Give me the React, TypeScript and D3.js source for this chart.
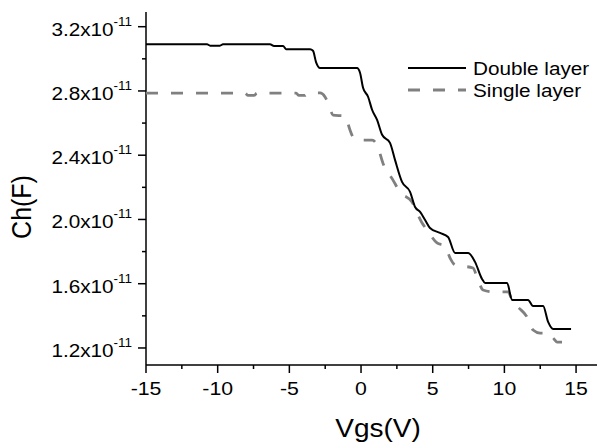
import * as d3 from 'd3';

// Vgs (V) and Ch (F)
const vgsDouble = [-15, -10.74, -10.53, -9.84, -9.63, -6.35, -6.07, -5.44, -5.23, -3.56, -3.35, -3.14, -2.86, -0.28, -0.07, 0.14, 0.49, 0.77, 1.12, 1.47, 2.02, 2.37, 2.86, 3.42, 3.77, 4.12, 4.47, 4.81, 5.51, 6.07, 6.56, 7.47, 7.95, 8.44, 8.65, 10.19, 10.53, 11.65, 12.0, 12.7, 13.05, 13.4, 14.65];
const chDouble = [3.09, 3.09, 3.082, 3.082, 3.09, 3.09, 3.08, 3.08, 3.06, 3.06, 3.05, 2.98, 2.943, 2.943, 2.913, 2.82, 2.764, 2.683, 2.62, 2.527, 2.477, 2.371, 2.234, 2.172, 2.078, 2.047, 1.997, 1.947, 1.916, 1.891, 1.792, 1.792, 1.736, 1.63, 1.605, 1.605, 1.499, 1.499, 1.461, 1.461, 1.362, 1.318, 1.318].map(v => v * 1e-11);

const vgsSingle = [-15, -8.09, -7.88, -7.46, -7.26, -4.53, -4.33, -3.91, -3.7, -2.86, -2.51, -2.3, -1.95, -1.12, -0.77, -0.56, -0.21, 0.77, 1.12, 1.53, 2.23, 2.72, 3.56, 3.91, 4.26, 4.61, 5.3, 5.86, 6.21, 6.56, 7.81, 8.09, 8.51, 9.21, 10.26, 10.53, 10.95, 11.58, 12.0, 12.49, 13.05, 13.4, 13.68, 14.02];
const chSingle = [2.786, 2.786, 2.772, 2.772, 2.786, 2.786, 2.772, 2.772, 2.786, 2.788, 2.763, 2.725, 2.65, 2.644, 2.557, 2.513, 2.494, 2.494, 2.463, 2.35, 2.245, 2.171, 2.108, 2.04, 1.978, 1.934, 1.854, 1.835, 1.76, 1.717, 1.698, 1.642, 1.561, 1.549, 1.549, 1.499, 1.455, 1.393, 1.312, 1.293, 1.293, 1.262, 1.237, 1.237].map(v => v * 1e-11);

const xTicks = [-15, -10, -5, 0, 5, 10, 15];
const xMinor = [-12.5, -7.5, -2.5, 2.5, 7.5, 12.5];
const yTicks = [1.2e-11, 1.6e-11, 2.0e-11, 2.4e-11, 2.8e-11, 3.2e-11];
const yMinor = [1.4e-11, 1.8e-11, 2.2e-11, 2.6e-11, 3.0e-11];

const seriesNames = ['Double layer', 'Single layer'];

const W = 597;
const H = 445;
const FONT = '"Liberation Sans", Arial, sans-serif';
const SX = 1.12; // text in the picture is slightly wide

const x = d3.scaleLinear().domain([-15, 16.46]).range([146, 597]);
const y = d3.scaleLinear().domain([1.094e-11, 3.2915e-11]).range([365, 12]);

const line = d3.line<[number, number]>()
  .x(d => x(d[0]))
  .y(d => y(d[1]))
  .curve(d3.curveMonotoneX);

const dbl = line(vgsDouble.map((v, i) => [v, chDouble[i]] as [number, number])) || '';
const sgl = line(vgsSingle.map((v, i) => [v, chSingle[i]] as [number, number])) || '';

const T = ({ x, y, size, anchor = 'start', rotate = 0, children }: any) => (
  <text
    transform={`translate(${x},${y}) scale(${SX},1)${rotate ? ` rotate(${rotate})` : ''}`}
    fontSize={size}
    fontFamily={FONT}
    textAnchor={anchor}
    fill="#000"
  >
    {children}
  </text>
);

export default function App() {
  const x0 = x.range()[0];
  const yBase = y.range()[0];

  return (
    <svg width={W} height={H} style={{ position: 'absolute', left: 0, top: 0, background: '#fff' }}>
      <rect width={W} height={H} fill="#fff" />

      {/* axes */}
      <line x1={x0} x2={W} y1={yBase} y2={yBase} stroke="#000" strokeWidth={1.5} />
      <line x1={x0} x2={x0} y1={y.range()[1]} y2={yBase} stroke="#000" strokeWidth={1.5} />

      {xTicks.map(t => (
        <g key={'xt' + t}>
          <line x1={x(t)} x2={x(t)} y1={yBase} y2={yBase + 8} stroke="#000" strokeWidth={1.5} />
          <T x={x(t)} y={yBase + 30} size={19} anchor="middle">{t}</T>
        </g>
      ))}
      {xMinor.map(t => (
        <line key={'xm' + t} x1={x(t)} x2={x(t)} y1={yBase} y2={yBase + 4} stroke="#000" strokeWidth={1.5} />
      ))}

      {yTicks.map(t => (
        <g key={'yt' + t}>
          <line x1={x0 - 8} x2={x0} y1={y(t)} y2={y(t)} stroke="#000" strokeWidth={1.5} />
          <text
            transform={`translate(${x0 - 14},${y(t) + 9}) scale(${SX},1)`}
            fontSize={18.5}
            fontFamily={FONT}
            textAnchor="end"
          >
            {(t * 1e11).toFixed(1)}x10
            <tspan fontSize={12} dy={-10}>-11</tspan>
          </text>
        </g>
      ))}
      {yMinor.map(t => (
        <line key={'ym' + t} x1={x0 - 4} x2={x0} y1={y(t)} y2={y(t)} stroke="#000" strokeWidth={1.5} />
      ))}

      {/* axis titles */}
      <T x={378} y={437} size={25} anchor="middle">Vgs(V)</T>
      <T x={31} y={207} size={25} anchor="middle" rotate={-90}>Ch(F)</T>

      {/* series */}
      <path d={sgl} fill="none" stroke="#808080" strokeWidth={2.8} strokeDasharray="12,13" />
      <path d={dbl} fill="none" stroke="#000" strokeWidth={2} />

      {/* legend */}
      <line x1={408} x2={466} y1={68} y2={68} stroke="#000" strokeWidth={2} />
      <T x={473} y={75} size={18.5}>{seriesNames[0]}</T>
      <line x1={408} x2={466} y1={90} y2={90} stroke="#808080" strokeWidth={2.8} strokeDasharray="12,13" />
      <T x={473} y={97} size={18.5}>{seriesNames[1]}</T>
    </svg>
  );
}
